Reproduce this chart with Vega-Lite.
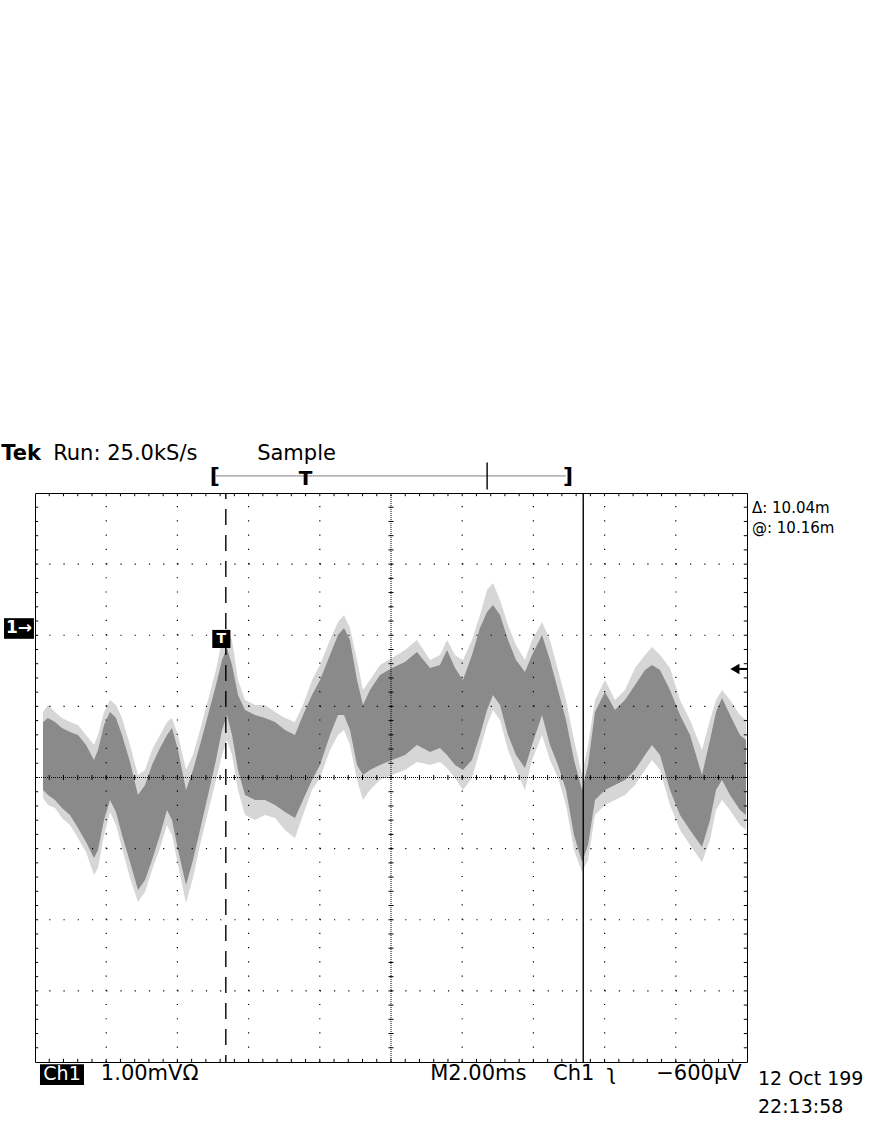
{
"$schema": "https://vega.github.io/schema/vega-lite/v6.json",
"width": 712, "height": 569,
"autosize": {"type": "none"},
"padding": {"left": 35, "top": 493, "right": 125, "bottom": 66},
"background": "white",
"config": {"view": {"stroke": "black", "strokeWidth": 1}, "text": {"font": "DejaVu Sans"}},
"datasets": {
"wave": [
{"t":0.225,"hi_out":-1.179,"hi_in":-1.319,"lo_in":-2.276,"lo_out":-2.388},
{"t":0.365,"hi_out":-1.080,"hi_in":-1.263,"lo_in":-2.346,"lo_out":-2.487},
{"t":0.562,"hi_out":-1.179,"hi_in":-1.319,"lo_in":-2.416,"lo_out":-2.529},
{"t":0.758,"hi_out":-1.263,"hi_in":-1.404,"lo_in":-2.529,"lo_out":-2.670},
{"t":0.983,"hi_out":-1.319,"hi_in":-1.460,"lo_in":-2.627,"lo_out":-2.768},
{"t":1.208,"hi_out":-1.362,"hi_in":-1.502,"lo_in":-2.810,"lo_out":-2.951},
{"t":1.433,"hi_out":-1.502,"hi_in":-1.643,"lo_in":-3.007,"lo_out":-3.148},
{"t":1.657,"hi_out":-1.643,"hi_in":-1.854,"lo_in":-3.232,"lo_out":-3.471},
{"t":1.770,"hi_out":-1.502,"hi_in":-1.713,"lo_in":-3.120,"lo_out":-3.373},
{"t":1.938,"hi_out":-1.179,"hi_in":-1.362,"lo_in":-2.698,"lo_out":-2.909},
{"t":2.107,"hi_out":-1.010,"hi_in":-1.179,"lo_in":-2.416,"lo_out":-2.585},
{"t":2.275,"hi_out":-1.080,"hi_in":-1.263,"lo_in":-2.585,"lo_out":-2.768},
{"t":2.444,"hi_out":-1.263,"hi_in":-1.502,"lo_in":-2.909,"lo_out":-3.092},
{"t":2.669,"hi_out":-1.643,"hi_in":-1.882,"lo_in":-3.288,"lo_out":-3.514},
{"t":2.893,"hi_out":-2.065,"hi_in":-2.346,"lo_in":-3.682,"lo_out":-3.851},
{"t":3.090,"hi_out":-1.995,"hi_in":-2.205,"lo_in":-3.542,"lo_out":-3.710},
{"t":3.287,"hi_out":-1.713,"hi_in":-1.924,"lo_in":-3.260,"lo_out":-3.401},
{"t":3.511,"hi_out":-1.502,"hi_in":-1.685,"lo_in":-2.909,"lo_out":-3.092},
{"t":3.708,"hi_out":-1.319,"hi_in":-1.502,"lo_in":-2.557,"lo_out":-2.768},
{"t":3.848,"hi_out":-1.263,"hi_in":-1.404,"lo_in":-2.698,"lo_out":-2.909},
{"t":4.017,"hi_out":-1.502,"hi_in":-1.713,"lo_in":-3.120,"lo_out":-3.331},
{"t":4.242,"hi_out":-1.995,"hi_in":-2.276,"lo_in":-3.612,"lo_out":-3.865},
{"t":4.438,"hi_out":-1.784,"hi_in":-1.995,"lo_in":-3.260,"lo_out":-3.514},
{"t":4.635,"hi_out":-1.432,"hi_in":-1.643,"lo_in":-2.838,"lo_out":-3.049},
{"t":4.860,"hi_out":-1.010,"hi_in":-1.221,"lo_in":-2.346,"lo_out":-2.585},
{"t":5.084,"hi_out":-0.588,"hi_in":-0.799,"lo_in":-1.854,"lo_out":-2.135},
{"t":5.253,"hi_out":-0.166,"hi_in":-0.447,"lo_in":-1.432,"lo_out":-1.784},
{"t":5.393,"hi_out":0.003,"hi_in":-0.279,"lo_in":-1.221,"lo_out":-1.573},
{"t":5.534,"hi_out":-0.166,"hi_in":-0.518,"lo_in":-1.502,"lo_out":-1.784},
{"t":5.702,"hi_out":-0.729,"hi_in":-0.940,"lo_in":-1.995,"lo_out":-2.276},
{"t":5.899,"hi_out":-1.010,"hi_in":-1.151,"lo_in":-2.346,"lo_out":-2.627},
{"t":6.180,"hi_out":-1.080,"hi_in":-1.221,"lo_in":-2.416,"lo_out":-2.698},
{"t":6.461,"hi_out":-1.080,"hi_in":-1.263,"lo_in":-2.416,"lo_out":-2.627},
{"t":6.742,"hi_out":-1.179,"hi_in":-1.319,"lo_in":-2.487,"lo_out":-2.670},
{"t":7.022,"hi_out":-1.263,"hi_in":-1.432,"lo_in":-2.585,"lo_out":-2.838},
{"t":7.303,"hi_out":-1.319,"hi_in":-1.502,"lo_in":-2.670,"lo_out":-2.951},
{"t":7.528,"hi_out":-1.080,"hi_in":-1.221,"lo_in":-2.416,"lo_out":-2.627},
{"t":7.781,"hi_out":-0.729,"hi_in":-0.940,"lo_in":-2.135,"lo_out":-2.276},
{"t":8.006,"hi_out":-0.518,"hi_in":-0.729,"lo_in":-1.924,"lo_out":-2.107},
{"t":8.287,"hi_out":-0.166,"hi_in":-0.377,"lo_in":-1.502,"lo_out":-1.713},
{"t":8.511,"hi_out":0.087,"hi_in":-0.096,"lo_in":-1.221,"lo_out":-1.502},
{"t":8.680,"hi_out":0.186,"hi_in":0.003,"lo_in":-1.221,"lo_out":-1.432},
{"t":8.848,"hi_out":0.003,"hi_in":-0.166,"lo_in":-1.432,"lo_out":-1.643},
{"t":9.045,"hi_out":-0.447,"hi_in":-0.729,"lo_in":-1.924,"lo_out":-2.135},
{"t":9.213,"hi_out":-0.869,"hi_in":-1.080,"lo_in":-2.065,"lo_out":-2.416},
{"t":9.410,"hi_out":-0.729,"hi_in":-0.869,"lo_in":-1.995,"lo_out":-2.276},
{"t":9.691,"hi_out":-0.518,"hi_in":-0.658,"lo_in":-1.924,"lo_out":-2.135},
{"t":10.028,"hi_out":-0.419,"hi_in":-0.560,"lo_in":-1.854,"lo_out":-2.065},
{"t":10.393,"hi_out":-0.307,"hi_in":-0.476,"lo_in":-1.784,"lo_out":-1.995},
{"t":10.730,"hi_out":-0.166,"hi_in":-0.335,"lo_in":-1.643,"lo_out":-1.882},
{"t":11.096,"hi_out":-0.447,"hi_in":-0.560,"lo_in":-1.741,"lo_out":-1.924},
{"t":11.376,"hi_out":-0.377,"hi_in":-0.518,"lo_in":-1.685,"lo_out":-1.882},
{"t":11.573,"hi_out":-0.166,"hi_in":-0.307,"lo_in":-1.784,"lo_out":-1.966},
{"t":11.798,"hi_out":-0.377,"hi_in":-0.560,"lo_in":-1.924,"lo_out":-2.107},
{"t":12.022,"hi_out":-0.447,"hi_in":-0.729,"lo_in":-1.995,"lo_out":-2.276},
{"t":12.275,"hi_out":-0.166,"hi_in":-0.377,"lo_in":-1.854,"lo_out":-2.107},
{"t":12.500,"hi_out":0.186,"hi_in":0.003,"lo_in":-1.502,"lo_out":-1.713},
{"t":12.697,"hi_out":0.537,"hi_in":0.228,"lo_in":-1.151,"lo_out":-1.362},
{"t":12.865,"hi_out":0.636,"hi_in":0.326,"lo_in":-0.940,"lo_out":-1.151},
{"t":13.062,"hi_out":0.397,"hi_in":0.186,"lo_in":-1.080,"lo_out":-1.291},
{"t":13.287,"hi_out":0.045,"hi_in":-0.166,"lo_in":-1.502,"lo_out":-1.713},
{"t":13.511,"hi_out":-0.236,"hi_in":-0.447,"lo_in":-1.784,"lo_out":-1.995},
{"t":13.764,"hi_out":-0.447,"hi_in":-0.616,"lo_in":-1.966,"lo_out":-2.276},
{"t":13.961,"hi_out":-0.166,"hi_in":-0.377,"lo_in":-1.643,"lo_out":-1.854},
{"t":14.242,"hi_out":0.087,"hi_in":-0.096,"lo_in":-1.221,"lo_out":-1.502},
{"t":14.466,"hi_out":-0.166,"hi_in":-0.447,"lo_in":-1.643,"lo_out":-1.854},
{"t":14.691,"hi_out":-0.588,"hi_in":-0.869,"lo_in":-1.924,"lo_out":-2.107},
{"t":14.916,"hi_out":-1.010,"hi_in":-1.291,"lo_in":-2.276,"lo_out":-2.487},
{"t":15.140,"hi_out":-1.573,"hi_in":-1.854,"lo_in":-2.909,"lo_out":-3.120},
{"t":15.365,"hi_out":-2.065,"hi_in":-2.276,"lo_in":-3.288,"lo_out":-3.429},
{"t":15.534,"hi_out":-1.643,"hi_in":-1.924,"lo_in":-3.049,"lo_out":-3.260},
{"t":15.730,"hi_out":-1.010,"hi_in":-1.179,"lo_in":-2.416,"lo_out":-2.627},
{"t":16.011,"hi_out":-0.729,"hi_in":-0.897,"lo_in":-2.276,"lo_out":-2.487},
{"t":16.292,"hi_out":-1.010,"hi_in":-1.151,"lo_in":-2.205,"lo_out":-2.416},
{"t":16.573,"hi_out":-0.869,"hi_in":-1.010,"lo_in":-2.135,"lo_out":-2.346},
{"t":16.854,"hi_out":-0.560,"hi_in":-0.799,"lo_in":-1.995,"lo_out":-2.205},
{"t":17.135,"hi_out":-0.377,"hi_in":-0.588,"lo_in":-1.784,"lo_out":-1.995},
{"t":17.331,"hi_out":-0.265,"hi_in":-0.518,"lo_in":-1.643,"lo_out":-1.854},
{"t":17.556,"hi_out":-0.377,"hi_in":-0.588,"lo_in":-1.784,"lo_out":-1.995},
{"t":17.837,"hi_out":-0.560,"hi_in":-0.869,"lo_in":-2.276,"lo_out":-2.487},
{"t":18.118,"hi_out":-1.010,"hi_in":-1.221,"lo_in":-2.627,"lo_out":-2.838},
{"t":18.399,"hi_out":-1.291,"hi_in":-1.502,"lo_in":-2.838,"lo_out":-3.049},
{"t":18.736,"hi_out":-1.713,"hi_in":-2.065,"lo_in":-3.077,"lo_out":-3.288},
{"t":18.961,"hi_out":-1.291,"hi_in":-1.573,"lo_in":-2.698,"lo_out":-2.979},
{"t":19.129,"hi_out":-1.010,"hi_in":-1.179,"lo_in":-2.276,"lo_out":-2.557},
{"t":19.298,"hi_out":-0.869,"hi_in":-0.982,"lo_in":-2.135,"lo_out":-2.416},
{"t":19.522,"hi_out":-1.010,"hi_in":-1.221,"lo_in":-2.346,"lo_out":-2.557},
{"t":19.803,"hi_out":-1.221,"hi_in":-1.502,"lo_in":-2.557,"lo_out":-2.768},
{"t":19.972,"hi_out":-1.291,"hi_in":-1.573,"lo_in":-2.627,"lo_out":-2.838}
],
"tmin": [{"t":0.4},{"t":0.8},{"t":1.2},{"t":1.6},{"t":2},{"t":2.4},{"t":2.8},{"t":3.2},{"t":3.6},{"t":4},{"t":4.4},{"t":4.8},{"t":5.2},{"t":5.6},{"t":6},{"t":6.4},{"t":6.8},{"t":7.2},{"t":7.6},{"t":8},{"t":8.4},{"t":8.8},{"t":9.2},{"t":9.6},{"t":10},{"t":10.4},{"t":10.8},{"t":11.2},{"t":11.6},{"t":12},{"t":12.4},{"t":12.8},{"t":13.2},{"t":13.6},{"t":14},{"t":14.4},{"t":14.8},{"t":15.2},{"t":15.6},{"t":16},{"t":16.4},{"t":16.8},{"t":17.2},{"t":17.6},{"t":18},{"t":18.4},{"t":18.8},{"t":19.2},{"t":19.6}],
"vmin": [{"v":-5.9},{"v":-5.7},{"v":-5.5},{"v":-5.3},{"v":-5.1},{"v":-4.9},{"v":-4.7},{"v":-4.5},{"v":-4.3},{"v":-4.1},{"v":-3.9},{"v":-3.7},{"v":-3.5},{"v":-3.3},{"v":-3.1},{"v":-2.9},{"v":-2.7},{"v":-2.5},{"v":-2.3},{"v":-2.1},{"v":-1.9},{"v":-1.7},{"v":-1.5},{"v":-1.3},{"v":-1.1},{"v":-0.9},{"v":-0.7},{"v":-0.5},{"v":-0.3},{"v":-0.1},{"v":0.1},{"v":0.3},{"v":0.5},{"v":0.7},{"v":0.9},{"v":1.1},{"v":1.3},{"v":1.5},{"v":1.7}]
},
"layer": [
{"data": {"name": "wave"}, "mark": {"type": "area", "color": "#d6d6d6"},
 "encoding": {"x": {"field": "t", "type": "quantitative", "scale": {"domain": [0, 20], "nice": false, "zero": false}, "axis": null},
  "y": {"field": "hi_out", "type": "quantitative", "scale": {"domain": [-6.1, 1.9], "nice": false, "zero": false}, "axis": null},
  "y2": {"field": "lo_out"}}},
{"data": {"name": "wave"}, "mark": {"type": "area", "color": "#8a8a8a"},
 "encoding": {"x": {"field": "t", "type": "quantitative", "scale": {"domain": [0, 20], "nice": false, "zero": false}, "axis": null},
  "y": {"field": "hi_in", "type": "quantitative", "scale": {"domain": [-6.1, 1.9], "nice": false, "zero": false}, "axis": null},
  "y2": {"field": "lo_in"}}},
{"data": {"values": [{"t":2},{"t":4},{"t":6},{"t":8},{"t":12},{"t":14},{"t":16},{"t":18}]},
 "mark": {"type": "rule", "color": "black", "strokeWidth": 1.2, "strokeDash": [1.2, 13.025]},
 "encoding": {"x": {"field": "t", "type": "quantitative", "scale": {"domain": [0, 20], "nice": false, "zero": false}, "axis": null},
  "y": {"datum": -6.1, "type": "quantitative", "scale": {"domain": [-6.1, 1.9], "nice": false, "zero": false}, "axis": null},
  "y2": {"datum": 1.9}}},
{"data": {"values": [{"v":-5.1},{"v":-4.1},{"v":-3.1},{"v":-1.1},{"v":-0.1},{"v":0.9}]},
 "mark": {"type": "rule", "color": "black", "strokeWidth": 1.2, "strokeDash": [1.2, 13.04]},
 "encoding": {"y": {"field": "v", "type": "quantitative", "scale": {"domain": [-6.1, 1.9], "nice": false, "zero": false}, "axis": null},
  "x": {"datum": 0, "type": "quantitative", "scale": {"domain": [0, 20], "nice": false, "zero": false}, "axis": null},
  "x2": {"datum": 20}}},
{"data": {"values": [{"v":-2.1}]},
 "mark": {"type": "rule", "color": "black", "strokeWidth": 1, "strokeDash": [1, 1]},
 "encoding": {"y": {"field": "v", "type": "quantitative", "scale": {"domain": [-6.1, 1.9], "nice": false, "zero": false}, "axis": null},
  "x": {"datum": 0, "type": "quantitative", "scale": {"domain": [0, 20], "nice": false, "zero": false}, "axis": null},
  "x2": {"datum": 20}}},
{"data": {"values": [{"t":10}]},
 "mark": {"type": "rule", "color": "black", "strokeWidth": 1, "strokeDash": [1, 1]},
 "encoding": {"x": {"field": "t", "type": "quantitative", "scale": {"domain": [0, 20], "nice": false, "zero": false}, "axis": null},
  "y": {"datum": -6.1, "type": "quantitative", "scale": {"domain": [-6.1, 1.9], "nice": false, "zero": false}, "axis": null},
  "y2": {"datum": 1.9}}},
{"data": {"name": "tmin"}, "mark": {"type": "rule", "color": "black", "strokeWidth": 1},
 "encoding": {"x": {"field": "t", "type": "quantitative", "scale": {"domain": [0, 20], "nice": false, "zero": false}, "axis": null},
  "y": {"datum": -2.135, "type": "quantitative", "scale": {"domain": [-6.1, 1.9], "nice": false, "zero": false}, "axis": null},
  "y2": {"datum": -2.065}}},
{"data": {"name": "vmin"}, "mark": {"type": "rule", "color": "black", "strokeWidth": 1},
 "encoding": {"y": {"field": "v", "type": "quantitative", "scale": {"domain": [-6.1, 1.9], "nice": false, "zero": false}, "axis": null},
  "x": {"datum": 9.93, "type": "quantitative", "scale": {"domain": [0, 20], "nice": false, "zero": false}, "axis": null},
  "x2": {"datum": 10.07}}},
{"data": {"name": "tmin"}, "mark": {"type": "rule", "color": "black", "strokeWidth": 1},
 "encoding": {"x": {"field": "t", "type": "quantitative", "scale": {"domain": [0, 20], "nice": false, "zero": false}, "axis": null},
  "y": {"datum": -6.1, "type": "quantitative", "scale": {"domain": [-6.1, 1.9], "nice": false, "zero": false}, "axis": null},
  "y2": {"datum": -6.055}}},
{"data": {"name": "tmin"}, "mark": {"type": "rule", "color": "black", "strokeWidth": 1},
 "encoding": {"x": {"field": "t", "type": "quantitative", "scale": {"domain": [0, 20], "nice": false, "zero": false}, "axis": null},
  "y": {"datum": 1.9, "type": "quantitative", "scale": {"domain": [-6.1, 1.9], "nice": false, "zero": false}, "axis": null},
  "y2": {"datum": 1.855}}},
{"data": {"name": "vmin"}, "mark": {"type": "rule", "color": "black", "strokeWidth": 1},
 "encoding": {"y": {"field": "v", "type": "quantitative", "scale": {"domain": [-6.1, 1.9], "nice": false, "zero": false}, "axis": null},
  "x": {"datum": 0, "type": "quantitative", "scale": {"domain": [0, 20], "nice": false, "zero": false}, "axis": null},
  "x2": {"datum": 0.09}}},
{"data": {"name": "vmin"}, "mark": {"type": "rule", "color": "black", "strokeWidth": 1},
 "encoding": {"y": {"field": "v", "type": "quantitative", "scale": {"domain": [-6.1, 1.9], "nice": false, "zero": false}, "axis": null},
  "x": {"datum": 19.91, "type": "quantitative", "scale": {"domain": [0, 20], "nice": false, "zero": false}, "axis": null},
  "x2": {"datum": 20}}},
{"data": {"values": [{"t": 5.36}]},
 "mark": {"type": "rule", "color": "black", "strokeWidth": 1.4, "strokeDash": [16, 10], "strokeDashOffset": 10},
 "encoding": {"x": {"field": "t", "type": "quantitative", "scale": {"domain": [0, 20], "nice": false, "zero": false}, "axis": null},
  "y": {"datum": 1.9, "type": "quantitative", "scale": {"domain": [-6.1, 1.9], "nice": false, "zero": false}, "axis": null},
  "y2": {"datum": -6.1}}},
{"data": {"values": [{"t": 15.40}]},
 "mark": {"type": "rule", "color": "black", "strokeWidth": 1.4},
 "encoding": {"x": {"field": "t", "type": "quantitative", "scale": {"domain": [0, 20], "nice": false, "zero": false}, "axis": null},
  "y": {"datum": 1.9, "type": "quantitative", "scale": {"domain": [-6.1, 1.9], "nice": false, "zero": false}, "axis": null},
  "y2": {"datum": -6.1}}},
{"data": {"values": [{"t": 5.1, "t2": 14.9, "v": 2.14}]},
 "mark": {"type": "rule", "color": "black", "strokeWidth": 1, "strokeDash": [1, 1]},
 "encoding": {"x": {"field": "t", "type": "quantitative", "scale": {"domain": [0, 20], "nice": false, "zero": false}, "axis": null},
  "x2": {"field": "t2"},
  "y": {"field": "v", "type": "quantitative", "scale": {"domain": [-6.1, 1.9], "nice": false, "zero": false}, "axis": null}}},
{"data": {"values": [{"t": 12.70, "v": 1.95, "v2": 2.33}]},
 "mark": {"type": "rule", "color": "black", "strokeWidth": 1.4},
 "encoding": {"x": {"field": "t", "type": "quantitative", "scale": {"domain": [0, 20], "nice": false, "zero": false}, "axis": null},
  "y": {"field": "v", "type": "quantitative", "scale": {"domain": [-6.1, 1.9], "nice": false, "zero": false}, "axis": null},
  "y2": {"field": "v2"}}},
{"data": {"values": [{"t": 5.05, "v": 2.14, "label": "["}, {"t": 14.97, "v": 2.14, "label": "]"}]},
 "mark": {"type": "text", "fontSize": 22, "fontWeight": "bold", "baseline": "middle", "align": "center", "color": "black"},
 "encoding": {"x": {"field": "t", "type": "quantitative", "scale": {"domain": [0, 20], "nice": false, "zero": false}, "axis": null},
  "y": {"field": "v", "type": "quantitative", "scale": {"domain": [-6.1, 1.9], "nice": false, "zero": false}, "axis": null},
  "text": {"field": "label"}}},
{"data": {"values": [{"t": 7.60, "v": 2.10, "label": "T"}]},
 "mark": {"type": "text", "fontSize": 20, "fontWeight": "bold", "baseline": "middle", "align": "center", "color": "black"},
 "encoding": {"x": {"field": "t", "type": "quantitative", "scale": {"domain": [0, 20], "nice": false, "zero": false}, "axis": null},
  "y": {"field": "v", "type": "quantitative", "scale": {"domain": [-6.1, 1.9], "nice": false, "zero": false}, "axis": null},
  "text": {"field": "label"}}},
{"data": {"values": [
  {"t": 0.14, "t2": 1.376, "v": -6.13, "v2": -6.425},
  {"t": -0.87, "t2": -0.03, "v": 0.14, "v2": -0.15},
  {"t": 4.98, "t2": 5.49, "v": -0.025, "v2": -0.279}]},
 "mark": {"type": "rect", "color": "black"},
 "encoding": {"x": {"field": "t", "type": "quantitative", "scale": {"domain": [0, 20], "nice": false, "zero": false}, "axis": null},
  "x2": {"field": "t2"},
  "y": {"field": "v", "type": "quantitative", "scale": {"domain": [-6.1, 1.9], "nice": false, "zero": false}, "axis": null},
  "y2": {"field": "v2"}}},
{"data": {"values": [{"t": 0.76, "v": -6.35, "label": "Ch1"}]},
 "mark": {"type": "text", "fontSize": 19, "baseline": "alphabetic", "align": "center", "color": "white"},
 "encoding": {"x": {"field": "t", "type": "quantitative", "scale": {"domain": [0, 20], "nice": false, "zero": false}, "axis": null},
  "y": {"field": "v", "type": "quantitative", "scale": {"domain": [-6.1, 1.9], "nice": false, "zero": false}, "axis": null},
  "text": {"field": "label"}}},
{"data": {"values": [{"t": -0.45, "v": 0.0, "label": "1→"}]},
 "mark": {"type": "text", "fontSize": 17, "fontWeight": "bold", "baseline": "middle", "align": "center", "color": "white"},
 "encoding": {"x": {"field": "t", "type": "quantitative", "scale": {"domain": [0, 20], "nice": false, "zero": false}, "axis": null},
  "y": {"field": "v", "type": "quantitative", "scale": {"domain": [-6.1, 1.9], "nice": false, "zero": false}, "axis": null},
  "text": {"field": "label"}}},
{"data": {"values": [{"t": 5.235, "v": -0.152, "label": "T"}]},
 "mark": {"type": "text", "fontSize": 14, "fontWeight": "bold", "baseline": "middle", "align": "center", "color": "white"},
 "encoding": {"x": {"field": "t", "type": "quantitative", "scale": {"domain": [0, 20], "nice": false, "zero": false}, "axis": null},
  "y": {"field": "v", "type": "quantitative", "scale": {"domain": [-6.1, 1.9], "nice": false, "zero": false}, "axis": null},
  "text": {"field": "label"}}},
{"data": {"values": [{"t": -0.95, "v": 2.37, "label": "Tek"}]},
 "mark": {"type": "text", "fontSize": 21, "fontWeight": "bold", "baseline": "alphabetic", "align": "left", "color": "black"},
 "encoding": {"x": {"field": "t", "type": "quantitative", "scale": {"domain": [0, 20], "nice": false, "zero": false}, "axis": null},
  "y": {"field": "v", "type": "quantitative", "scale": {"domain": [-6.1, 1.9], "nice": false, "zero": false}, "axis": null},
  "text": {"field": "label"}}},
{"data": {"values": [
  {"t": 0.51, "v": 2.37, "label": "Run: 25.0kS/s"},
  {"t": 6.24, "v": 2.37, "label": "Sample"},
  {"t": 1.85, "v": -6.355, "label": "1.00mVΩ"},
  {"t": 11.10, "v": -6.355, "label": "M2.00ms"},
  {"t": 14.55, "v": -6.355, "label": "Ch1"},
  {"t": 16.05, "v": -6.355, "label": "ʅ"},
  {"t": 17.45, "v": -6.355, "label": "−600µV"}]},
 "mark": {"type": "text", "fontSize": 21, "baseline": "alphabetic", "align": "left", "color": "black"},
 "encoding": {"x": {"field": "t", "type": "quantitative", "scale": {"domain": [0, 20], "nice": false, "zero": false}, "axis": null},
  "y": {"field": "v", "type": "quantitative", "scale": {"domain": [-6.1, 1.9], "nice": false, "zero": false}, "axis": null},
  "text": {"field": "label"}}},
{"data": {"values": [
  {"t": 20.31, "v": -6.425, "label": "12 Oct 199"},
  {"t": 20.31, "v": -6.815, "label": "22:13:58"}]},
 "mark": {"type": "text", "fontSize": 19, "baseline": "alphabetic", "align": "left", "color": "black"},
 "encoding": {"x": {"field": "t", "type": "quantitative", "scale": {"domain": [0, 20], "nice": false, "zero": false}, "axis": null},
  "y": {"field": "v", "type": "quantitative", "scale": {"domain": [-6.1, 1.9], "nice": false, "zero": false}, "axis": null},
  "text": {"field": "label"}}},
{"data": {"values": [
  {"t": 20.14, "v": 1.62, "label": "Δ: 10.04m"},
  {"t": 20.14, "v": 1.339, "label": "@: 10.16m"}]},
 "mark": {"type": "text", "fontSize": 15, "baseline": "alphabetic", "align": "left", "color": "black"},
 "encoding": {"x": {"field": "t", "type": "quantitative", "scale": {"domain": [0, 20], "nice": false, "zero": false}, "axis": null},
  "y": {"field": "v", "type": "quantitative", "scale": {"domain": [-6.1, 1.9], "nice": false, "zero": false}, "axis": null},
  "text": {"field": "label"}}},
{"data": {"values": [{"t": 19.70, "t2": 20, "v": -0.574}]},
 "mark": {"type": "rule", "color": "black", "strokeWidth": 2},
 "encoding": {"x": {"field": "t", "type": "quantitative", "scale": {"domain": [0, 20], "nice": false, "zero": false}, "axis": null},
  "x2": {"field": "t2"},
  "y": {"field": "v", "type": "quantitative", "scale": {"domain": [-6.1, 1.9], "nice": false, "zero": false}, "axis": null}}},
{"data": {"values": [{"t": 19.66, "v": -0.574}]},
 "mark": {"type": "point", "shape": "triangle-left", "filled": true, "color": "black", "size": 110, "opacity": 1},
 "encoding": {"x": {"field": "t", "type": "quantitative", "scale": {"domain": [0, 20], "nice": false, "zero": false}, "axis": null},
  "y": {"field": "v", "type": "quantitative", "scale": {"domain": [-6.1, 1.9], "nice": false, "zero": false}, "axis": null}}}
]
}
